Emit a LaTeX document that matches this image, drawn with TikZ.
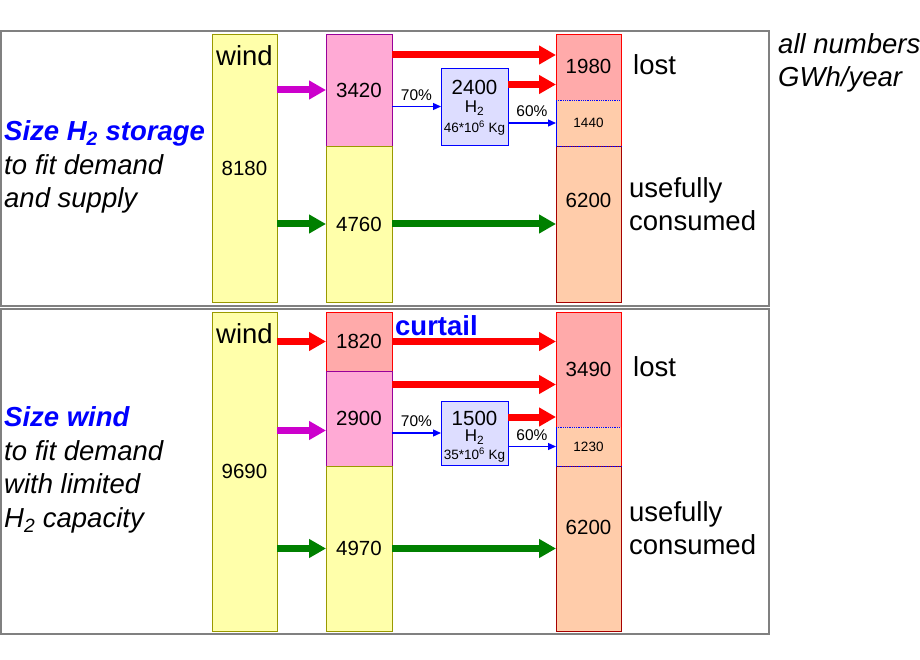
\documentclass[tikz,border=0pt]{standalone}
\usepackage{fontspec}
\setmainfont{Liberation Sans}
\usetikzlibrary{arrows.meta}
\usetikzlibrary{positioning}
\definecolor{windfill}{HTML}{FFFFAA}
\definecolor{windline}{HTML}{999900}
\definecolor{storefill}{HTML}{FFAAD5}
\definecolor{storeline}{HTML}{990099}
\definecolor{lostfill}{HTML}{FFAAAA}
\definecolor{usefill}{HTML}{FFCCAA}
\definecolor{hfill}{HTML}{DDDDFF}
\definecolor{flowmag}{HTML}{CC00CC}
\definecolor{flowgreen}{HTML}{008000}
\newcommand\numfont{\fontsize{20.5}{24}\selectfont}
\newcommand\lblfont{\fontsize{27.5}{33.5}\selectfont}
\newcommand\pctfont{\fontsize{15.5}{18}\selectfont}
\newcommand\hfont{\fontsize{17}{20}\selectfont}
\newcommand\tinyfont{\fontsize{13.5}{16}\selectfont}

\begin{document}
\begin{tikzpicture}[x=1pt,y=-1pt,
  col/.style={draw,line width=0.8pt,minimum width=65pt,inner sep=0pt,outer sep=0pt,anchor=north,font=\numfont},
  windcol/.style={col,fill=windfill,draw=windline},
  storecol/.style={col,fill=storefill,draw=storeline},
  lostcol/.style={col,fill=lostfill,draw=red},
  usecol/.style={col,fill=usefill,draw=red!65!black},
  partcol/.style={col,fill=usefill,draw=none,font=\tinyfont},
  partline/.style={blue,line width=0.8pt,densely dotted},
  hbox/.style={draw=blue,fill=hfill,line width=0.8pt,minimum width=67pt,inner sep=0pt,outer sep=0pt},
  fat/.style={line width=7pt,-{Triangle[length=17pt,width=18pt]}},
  thin/.style={blue,line width=1.3pt,-{Triangle[length=8pt,width=7pt]}},
  lbl/.style={font=\lblfont,align=left,inner sep=0pt},
  pct/.style={font=\pctfont,text=black,above,yshift=2pt},
  frame/.style={draw=black!50,line width=1.5pt}]
\useasboundingbox (0,0) rectangle (920,660);
%% panels
\draw[frame] (1,31) rectangle (769,306);
\draw[frame] (1,309) rectangle (769,634);

%% upper panel: size H2 storage
\node[windcol,minimum height=268pt] (w1) at (244.5,34) {8180};
\node[font=\lblfont,below=8pt of w1.north] {wind};
\node[storecol,minimum height=112pt,minimum width=66pt] (m1) at (359,34) {3420};
\node[windcol,minimum height=156pt,minimum width=66pt] (m2) at (359,146) {4760};
\node[lostcol,minimum height=112pt] (r1) at (588.5,34) {};
\node[font=\numfont] at ([yshift=-32pt]r1.north) {1980};
\node[usecol,minimum height=156pt] (r3) at (588.5,146) {};
\node[partcol,minimum height=46pt] (r2) at (588.5,100) {1440};
\draw[partline] (r2.north west) -- (r2.north east) (r2.south west) -- (r2.south east);
\draw[blue,line width=0.8pt] (r2.north west) -- (r2.south west);
\draw[red,line width=0.8pt] (r2.north east) -- (r2.south east);
\node[font=\numfont] at ([yshift=-54pt]r3.north) {6200};
\node[hbox,minimum height=77pt] (h1) at (474.5,106.5) {};
\node[font=\numfont] at ([yshift=-19pt]h1.north) {2400};
\node[font=\hfont] at ([yshift=-40pt]h1.north) {H\textsubscript{2}};
\node[font=\tinyfont] at ([yshift=-60pt]h1.north) {46*10\textsuperscript{6} Kg};

\draw[fat,flowmag] (w1.east |- m1) -- (m1.west);
\draw[fat,flowgreen] (w1.east |- m2) -- (m2.west);
\draw[fat,flowgreen] (m2.east) -- (m2.east -| r3.west);
\draw[fat,red] ([yshift=35pt]m1.east) -- ([yshift=35pt]m1.east -| r1.west);
\draw[fat,red] ([yshift=22pt]h1.east) -- ([yshift=22pt]h1.east -| r1.west);
\draw[thin] (m1.east |- h1) -- node[pct] {70\%} (h1.west);
\draw[thin] (h1.east |- r2) -- node[pct] {60\%} (r2.west);

\node[lbl,anchor=west] at ([xshift=12pt,yshift=-31pt]r1.north east) {lost};
\node[lbl,anchor=west] at ([xshift=8pt,yshift=-58pt]r3.north east) {usefully\\consumed};
\node[lbl,anchor=west] at (4,167) {\textcolor{blue}{\textbf{\textit{Size H\textsubscript{2} storage}}}\\\textit{to fit demand}\\\textit{and supply}};

%% lower panel: size wind
\node[windcol,minimum height=319pt] (w2) at (244.5,312) {9690};
\node[font=\lblfont,below=8pt of w2.north] {wind};
\node[lostcol,minimum height=59pt,minimum width=66pt] (m3) at (359,312) {1820};
\node[storecol,minimum height=95pt,minimum width=66pt] (m4) at (359,371) {2900};
\node[windcol,minimum height=165pt,minimum width=66pt] (m5) at (359,466) {4970};
\node[lostcol,minimum height=154pt] (r4) at (588.5,312) {};
\node[font=\numfont] at ([yshift=-57pt]r4.north) {3490};
\node[usecol,minimum height=165pt] (r6) at (588.5,466) {};
\node[partcol,minimum height=39pt] (r5) at (588.5,427) {1230};
\draw[partline] (r5.north west) -- (r5.north east) (r5.south west) -- (r5.south east);
\draw[blue,line width=0.8pt] (r5.north west) -- (r5.south west);
\draw[red,line width=0.8pt] (r5.north east) -- (r5.south east);
\node[font=\numfont] at ([yshift=-61pt]r6.north) {6200};
\node[hbox,minimum height=64pt] (h2) at (474.5,433) {};
\node[font=\numfont] at ([yshift=-17pt]h2.north) {1500};
\node[font=\hfont] at ([yshift=-36pt]h2.north) {H\textsubscript{2}};
\node[font=\tinyfont] at ([yshift=-54pt]h2.north) {35*10\textsuperscript{6} Kg};

\draw[fat,red] (w2.east |- m3) -- (m3.west);
\draw[fat,red] (m3.east) -- (m3.east -| r4.west);
\draw[fat,red] ([yshift=34pt]m4.east) -- ([yshift=34pt]m4.east -| r4.west);
\draw[fat,red] ([yshift=16pt]h2.east) -- ([yshift=16pt]h2.east -| r4.west);
\draw[fat,flowmag] ([yshift=-12pt]m4.west -| w2.east) -- ([yshift=-12pt]m4.west);
\draw[fat,flowgreen] (w2.east |- m5) -- (m5.west);
\draw[fat,flowgreen] (m5.east) -- (m5.east -| r6.west);
\draw[thin] (m4.east |- h2) -- node[pct] {70\%} (h2.west);
\draw[thin] (h2.east |- r5) -- node[pct] {60\%} (r5.west);

\node[font=\lblfont,text=blue,anchor=base west,inner sep=0pt] at ([xshift=3pt,yshift=-23pt]m3.north east) {\textbf{curtail}};
\node[lbl,anchor=west] at ([xshift=12pt,yshift=-55pt]r4.north east) {lost};
\node[lbl,anchor=west] at ([xshift=8pt,yshift=-62pt]r6.north east) {usefully\\consumed};
\node[lbl,anchor=west] at (4,470) {\textcolor{blue}{\textbf{\textit{Size wind}}}\\\textit{to fit demand}\\\textit{with limited}\\\textit{H\textsubscript{2} capacity}};

%% units
\node[lbl,anchor=west] at (778,63) {\textit{all numbers}\\\textit{GWh/year}};
\end{tikzpicture}
\end{document}
